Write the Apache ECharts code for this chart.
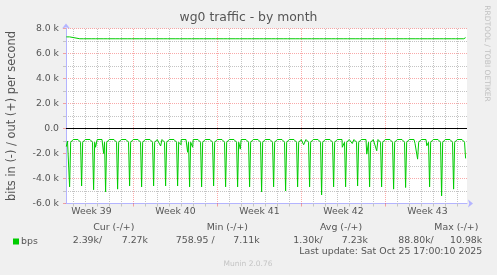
<!DOCTYPE html>
<html><head><meta charset="utf-8">
<script src="https://cdn.jsdelivr.net/npm/echarts@6/dist/echarts.min.js"></script>
<style>html,body{margin:0;padding:0;background:#f0f0f0}#c{width:497px;height:275px}</style>
</head><body><div id="c"></div>
<script>
// ---------------- data (time in days since Mon 22 Sep 2025 00:00, values in bit/s) ----------------
const weekLabels = ['Week 39', 'Week 40', 'Week 41', 'Week 42', 'Week 43'];
const weekStarts = [0, 7, 14, 21, 28];
const viewStart = 1.375;
const viewEnd = 34.7917;

const yTickValues = [-6000, -4000, -2000, 0, 2000, 4000, 6000, 8000];
const yTickLabels = ['-6.0 k', '-4.0 k', '-2.0 k', '0.0', '2.0 k', '4.0 k', '6.0 k', '8.0 k'];

// daily "in" troughs (shown negative), one per day, at about 16:12
const firstPeakDay = 1;
const peakHour = 16.2;
const inTroughs = [-4670, -4600, -4900, -5070, -4850, -4600, -4670, -4600, -4600, -4600,
                   -4670, -4670, -4600, -4670, -4670, -4670, -5070, -4670, -5000, -4670,
                   -4670, -5310, -4670, -4670, -4600, -4670, -4670, -4850, -4720, -2450,
                   -4670, -5390, -4850, -2390];
const inBase = -880;
const inShoulder = -1100;
const inStart = [[1.40, -1450], [1.5, -1000]];
const inDips = [[3.84, -1500], [4.51, -2000], [9.26, -1400], [10.96, -1300], [11.51, -1900],
                [11.93, -1500], [15.9, -1650], [21.18, -1300], [24.4, -1500], [25.23, -1200],
                [26.44, -2050], [27.27, -1780], [30.46, -1200], [31.44, -1380], [33.82, -1250]];

// daily "out" bumps
const outPeaks = [7330, 7300, 7300, 7330, 7300, 7310, 7300, 7300, 7300, 7310,
                  7340, 7300, 7300, 7300, 7300, 7300, 7300, 7300, 7300, 7300,
                  7300, 7300, 7300, 7300, 7300, 7300, 7300, 7300, 7330, 7300,
                  7300, 7300, 7300, 7270];
const outBase = 7180;
const outStart = [[1.40, 7330], [1.5, 7190]];

const legendHeaders = ['Cur (-/+)', 'Min (-/+)', 'Avg (-/+)', 'Max (-/+)'];
const legendValues = ['2.39k/', '7.27k', '758.95 /', '7.11k', '1.30k/', '7.23k', '88.80k/', '10.98k'];
const lastUpdate = 'Last update: Sat Oct 25 17:00:10 2025';
const footer = 'Munin 2.0.76';
const watermark = 'RRDTOOL / TOBI OETIKER';

// ---------------- build series points ----------------
const inPts = inStart.slice();
const outPts = outStart.slice();
const n = inTroughs.length;
for (let k = 0; k < n; k++) {
  const t = firstPeakDay + k + peakHour / 24;
  if (k > 0) inPts.push([t - 0.3, inBase]);
  inPts.push([t - 0.09, inShoulder]);
  inPts.push([t, inTroughs[k]]);
  if (k < n - 1) { inPts.push([t + 0.09, inShoulder]); inPts.push([t + 0.3, inBase]); }
  if (k > 0) outPts.push([t - 0.15, outBase]);
  outPts.push([t, outPeaks[k]]);
  if (k < n - 1) outPts.push([t + 0.15, outBase]);
}
inDips.forEach(p => inPts.push(p));
inPts.sort((a, b) => a[0] - b[0]);
outPts.sort((a, b) => a[0] - b[0]);

const weekCenters = weekStarts.map(s => s + 3.5);
const weekBounds = weekStarts.slice(1);
const dayLines = [];
for (let d = Math.ceil(viewStart); d <= Math.floor(viewEnd); d++) if (d % 7 !== 0) dayLines.push(d);

const FONT = 'DejaVu Sans';
const TXT = '#555555';
const AXIS = '#b4b4ff';
const GREEN = '#00cc00';
const MINOR = '#c4c4c4';
const MAJOR = 'rgba(240,50,50,0.42)';

const vGrid = dayLines.map(d => ({xAxis: d, lineStyle: {color: MINOR, type: [1, 1], dashOffset: 0.5, width: 1}}))
  .concat(weekBounds.map(d => ({xAxis: d, lineStyle: {color: MAJOR, type: [1, 1], dashOffset: 0.5, width: 1}})));

const chart = echarts.init(document.getElementById('c'), null, {renderer: 'canvas'});
const hdrX = [93.3, 206.7, 320, 434.3];
const valX = [72.7, 121.7, 175.7, 233.3, 293.3, 341.7, 398.3, 450];
const graphics = [];
legendHeaders.forEach((h, i) => graphics.push({type: 'text', x: hdrX[i], y: 228, silent: true,
  style: {text: h, fill: TXT, font: '9.4px "DejaVu Sans"', textAlign: 'left', textVerticalAlign: 'middle'}}));
legendValues.forEach((v, i) => graphics.push({type: 'text', x: valX[i], y: 240.5, silent: true,
  style: {text: v, fill: TXT, font: '9.4px "DejaVu Sans"', textAlign: 'left', textVerticalAlign: 'middle'}}));
graphics.push({type: 'text', x: 482.3, y: 251.5, silent: true,
  style: {text: lastUpdate, fill: TXT, font: '9.4px "DejaVu Sans"', textAlign: 'right', textVerticalAlign: 'middle'}});
graphics.push({type: 'text', x: 248, y: 264.3, silent: true,
  style: {text: footer, fill: '#c4c4c4', font: '7.5px "DejaVu Sans"', textAlign: 'center', textVerticalAlign: 'middle'}});
graphics.push({type: 'text', x: 487, y: 53.5, rotation: -Math.PI / 2, silent: true,
  style: {text: watermark, fill: '#c0c0c0', font: '7.5px "DejaVu Sans"', textAlign: 'center', textVerticalAlign: 'middle'}});

chart.setOption({
  animation: false,
  backgroundColor: '#f0f0f0',
  title: {text: 'wg0 traffic - by month', left: 'center', top: 12, padding: 0,
    textStyle: {fontFamily: FONT, fontSize: 12.4, fontWeight: 'normal', color: TXT}},
  grid: {left: 66, right: 30, top: 28.5, bottom: 71.5, show: true, backgroundColor: '#ffffff', borderWidth: 0,
    containLabel: false, outerBoundsMode: 'none'},
  legend: {data: ['bps'], left: 13, top: 237, padding: 0, itemWidth: 6, itemHeight: 6, icon: 'rect',
    textStyle: {fontFamily: FONT, fontSize: 9.4, color: TXT, padding: [0, 0, 0, -3]}},
  xAxis: [{
    type: 'value', min: viewStart, max: viewEnd, position: 'bottom',
    axisLine: {show: true, onZero: false, lineStyle: {color: AXIS}, symbol: ['none', 'arrow'], symbolSize: [6, 5], symbolOffset: [0, 6]},
    axisTick: {show: true, length: 3, customValues: dayLines, lineStyle: {color: MINOR}},
    splitLine: {show: false},
    axisLabel: {customValues: weekCenters, formatter: v => weekLabels[weekCenters.indexOf(v)] || '',
      fontFamily: FONT, fontSize: 9.3, color: TXT, margin: 4}
  }, {
    type: 'value', min: viewStart, max: viewEnd, position: 'bottom',
    axisLine: {show: false, onZero: false},
    axisTick: {show: true, length: 3, customValues: weekBounds, lineStyle: {color: MAJOR}},
    splitLine: {show: false},
    axisLabel: {show: false}
  }],
  yAxis: {
    type: 'value', min: -6000, max: 8000, interval: 2000,
    name: 'bits in (-) / out (+) per second', nameLocation: 'middle', nameGap: 48,
    nameTextStyle: {fontFamily: FONT, fontSize: 11.4, color: TXT},
    axisLine: {show: true, onZero: false, lineStyle: {color: AXIS}, symbol: ['none', 'arrow'], symbolSize: [6, 5], symbolOffset: [0, 5]},
    axisTick: {show: true, length: 3, lineStyle: {color: MAJOR}},
    minorTick: {show: true, splitNumber: 2, length: 3, lineStyle: {color: MINOR}},
    splitLine: {show: true, lineStyle: {color: MAJOR, type: [1, 1]}},
    minorSplitLine: {show: true, lineStyle: {color: MINOR, type: [1, 1]}},
    axisLabel: {formatter: v => yTickLabels[yTickValues.indexOf(v)], fontFamily: FONT, fontSize: 9.3, color: TXT, margin: 7}
  },
  series: [{
    name: 'bps', type: 'line', data: inPts, showSymbol: false, symbol: 'none',
    lineStyle: {color: GREEN, width: 1}, itemStyle: {color: GREEN}, z: 3,
    markLine: {silent: true, symbol: ['none', 'none'], label: {show: false}, z: 2,
      lineStyle: {color: '#000000', type: 'solid', width: 1}, data: [{yAxis: 0}]}
  }, {
    name: 'bps', type: 'line', data: outPts, showSymbol: false, symbol: 'none',
    lineStyle: {color: GREEN, width: 1}, itemStyle: {color: GREEN}, z: 3,
    markLine: {silent: true, symbol: ['none', 'none'], label: {show: false}, z: 1,
      emphasis: {disabled: true}, data: vGrid}
  }],
  graphic: graphics
});
</script></body></html>
